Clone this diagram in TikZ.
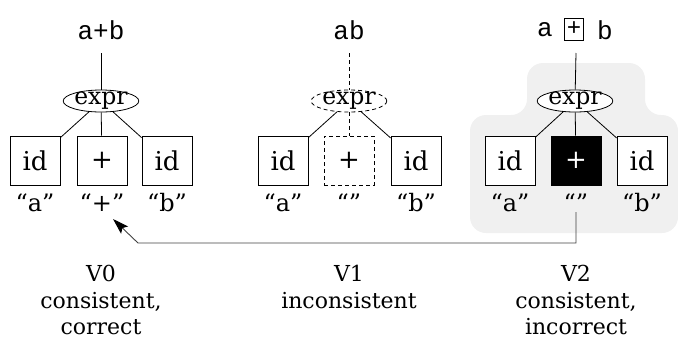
\documentclass[tikz,border=0pt]{standalone}
\usepackage{fontspec}
\setmainfont{DejaVu Serif}
\setmonofont{Liberation Mono}
\usetikzlibrary{shapes.geometric,arrows.meta}
\begin{document}
\begin{tikzpicture}[x=1pt,y=-1pt,
  tok/.style={draw,line width=0.8pt,minimum width=50pt,minimum height=49pt,inner sep=0pt,font=\fontsize{26}{26}\selectfont},
  nt/.style={draw,line width=0.8pt,ellipse,minimum width=75pt,minimum height=22pt,inner sep=0pt,text height=9pt,text depth=2.5pt,font=\fontsize{23.5}{23.5}\selectfont},
  lex/.style={inner sep=0pt,font=\fontsize{24}{24}\selectfont},
  src/.style={inner sep=0pt,font=\ttfamily\fontsize{26}{26}\selectfont},
  captext/.style={align=center,inner sep=0pt,anchor=north,font=\fontsize{22}{26.5}\selectfont},
  edge/.style={line width=0.8pt},
  ghost/.style={dashed,dash pattern=on 4pt off 3pt},
  arr/.style={line width=0.9pt,draw=black!75,-{Stealth[length=16pt,width=10pt,inset=3pt,color=black,fill=black]}},
]
\useasboundingbox (0,0) rectangle (678,341);
% shaded region
\fill[black!6,rounded corners=16pt] (527,63) -- (645,63) -- (645,115) -- (678,115) -- (678,233) -- (470,233) -- (470,115) -- (527,115) -- cycle;

% ---- V0 ----
\node[src] (s0) at (101,30) {a+b};
\coordinate (t0) at (101,53);
\node[nt] (e0) at (101,101) {expr};
\node[tok] (a0) at (35,160.5) {id};
\node[tok] (p0) at (102,160.5) {+};
\node[tok] (b0) at (167,160.5) {id};
\node[lex] (la0) at (35,203) {“a”};
\node[lex] (lp0) at (102,203) {“+”};
\node[lex] (lb0) at (167,203) {“b”};
\draw[edge] (t0) -- (e0);
\draw[edge] (e0) -- (a0);
\draw[edge] (e0) -- (p0);
\draw[edge] (e0) -- (b0);
\node[captext] (c0) at (101,265) {V0\\consistent,\\correct};

% ---- V1 ----
\node[src] (s1) at (349,30) {ab};
\coordinate (t1) at (349,53);
\node[nt,ghost] (e1) at (349,101) {expr};
\node[tok] (a1) at (283,160.5) {id};
\node[tok,ghost] (p1) at (349,160.5) {+};
\node[tok] (b1) at (416,160.5) {id};
\node[lex] (la1) at (283,203) {“a”};
\node[lex] (lp1) at (349,203) {“”};
\node[lex] (lb1) at (416,203) {“b”};
\draw[edge,ghost] (t1) -- (e1);
\draw[edge] (e1) -- (a1);
\draw[edge,ghost] (e1) -- (p1);
\draw[edge] (e1) -- (b1);
\node[captext] (c1) at (349,265) {V1\\inconsistent};

% ---- V2 ----
\node[src] (s2a) at (545,30) {a};
\node[draw,line width=0.8pt,minimum width=19pt,minimum height=22pt,inner sep=0pt,font=\ttfamily\fontsize{24}{24}\selectfont] (s2p) at (574,29) {+};
\node[src] (s2b) at (605,30) {b};
\coordinate (t2) at (576,53);
\node[nt,fill=white] (e2) at (575,101) {expr};
\node[tok,fill=white] (a2) at (510,160.5) {id};
\node[tok,fill=black,text=white] (p2) at (576,160.5) {+};
\node[tok,fill=white] (b2) at (642,160.5) {id};
\node[lex] (la2) at (510,203) {“a”};
\node[lex] (lp2) at (576,203) {“”};
\node[lex] (lb2) at (642,203) {“b”};
\draw[edge] (t2) -- (e2);
\draw[edge] (e2) -- (a2);
\draw[edge] (e2) -- (p2);
\draw[edge] (e2) -- (b2);
\node[captext] (c2) at (576,265) {V2\\consistent,\\incorrect};

% ---- arrow ----
\coordinate (k) at (138,243);
\coordinate (tip) at (113,219);
\draw[arr] (lp2.south) |- (k) -- (tip);
\end{tikzpicture}
\end{document}
